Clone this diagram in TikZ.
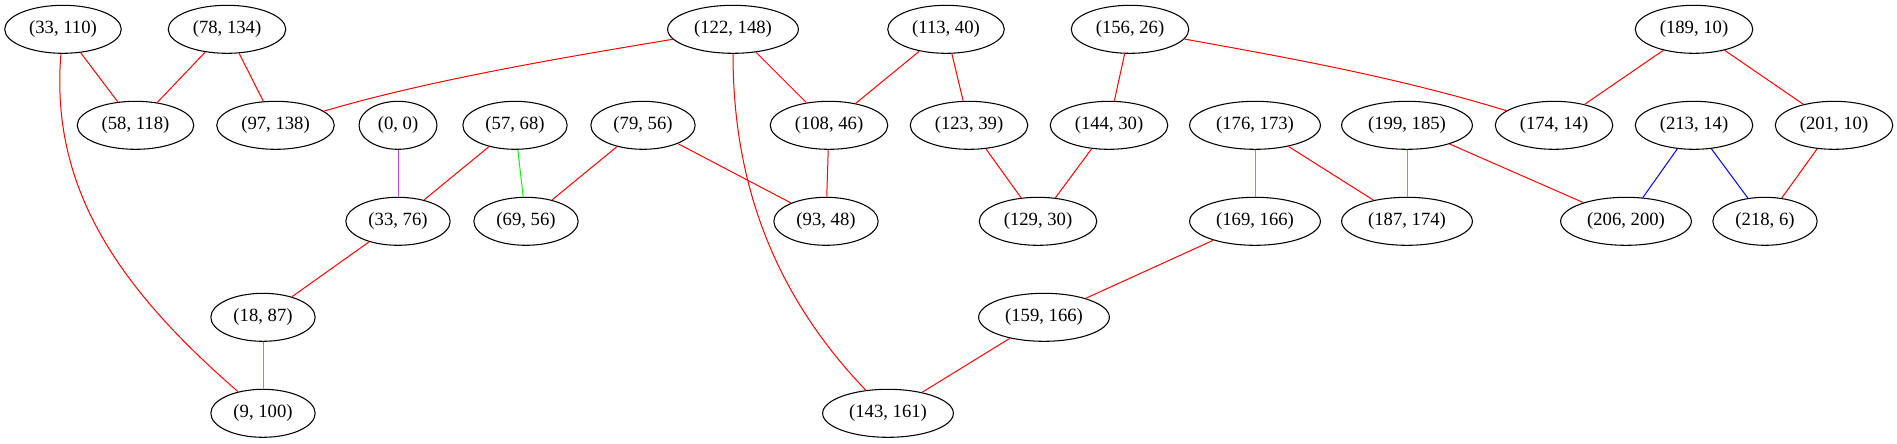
\documentclass[tikz,border=0pt]{standalone}
\usepackage{fontspec}
\setmainfont{Liberation Serif}
\usetikzlibrary{shapes.geometric}
\definecolor{gvred}{HTML}{FF0000}
\definecolor{gvgreen}{HTML}{00FF00}
\definecolor{gvblue}{HTML}{0000FF}
\definecolor{gvpurple}{HTML}{A020F0}
\tikzset{
  gvnode/.style={draw, ellipse, line width=0.8pt, minimum height=36pt, minimum width=54pt,
    inner xsep=5.5pt, inner ysep=2pt, font=\fontsize{14}{16}\selectfont},
  gvedge/.style={line width=0.75pt},
  redge/.style={gvedge, draw=gvred},
  gedge/.style={gvedge, draw=gvgreen},
  bedge/.style={gvedge, draw=gvblue},
  pedge/.style={gvedge, draw=gvpurple!80},
}
\begin{document}
\begin{tikzpicture}[x=0.75pt, y=-0.75pt]
\useasboundingbox (0,0) rectangle (1897,443);
% row 1
\node[gvnode] (a33x110) at (63,29.3) {(33, 110)};
\node[gvnode] (a78x134) at (227,29.3) {(78, 134)};
\node[gvnode] (a122x148) at (733,29.3) {(122, 148)};
\node[gvnode] (a113x40) at (946,29.3) {(113, 40)};
\node[gvnode] (a156x26) at (1130,29.3) {(156, 26)};
\node[gvnode] (a189x10) at (1694,29.3) {(189, 10)};
% row 2
\node[gvnode] (a58x118) at (135.5,125.3) {(58, 118)};
\node[gvnode] (a97x138) at (275.5,125.3) {(97, 138)};
\node[gvnode] (a0x0) at (398,125.3) {(0, 0)};
\node[gvnode] (a57x68) at (515,125.3) {(57, 68)};
\node[gvnode] (a79x56) at (643,125.3) {(79, 56)};
\node[gvnode] (a108x46) at (829,125.3) {(108, 46)};
\node[gvnode] (a123x39) at (969,125.3) {(123, 39)};
\node[gvnode] (a144x30) at (1109,125.3) {(144, 30)};
\node[gvnode] (a176x173) at (1255,125.3) {(176, 173)};
\node[gvnode] (a199x185) at (1407,125.3) {(199, 185)};
\node[gvnode] (a174x14) at (1554,125.3) {(174, 14)};
\node[gvnode] (a213x14) at (1694,125.3) {(213, 14)};
\node[gvnode] (a201x10) at (1834,125.3) {(201, 10)};
% row 3
\node[gvnode] (a33x76) at (398,221.3) {(33, 76)};
\node[gvnode] (a69x56) at (526,221.3) {(69, 56)};
\node[gvnode] (a93x48) at (826,221.3) {(93, 48)};
\node[gvnode] (a129x30) at (1038,221.3) {(129, 30)};
\node[gvnode] (a169x166) at (1255,221.3) {(169, 166)};
\node[gvnode] (a187x174) at (1407,221.3) {(187, 174)};
\node[gvnode] (a206x200) at (1626,221.3) {(206, 200)};
\node[gvnode] (a218x6) at (1765,221.3) {(218, 6)};
% row 4
\node[gvnode] (a18x87) at (263,317.3) {(18, 87)};
\node[gvnode] (a159x166) at (1044,317.3) {(159, 166)};
% row 5
\node[gvnode] (a9x100) at (263,413.3) {(9, 100)};
\node[gvnode] (a143x161) at (888,413.3) {(143, 161)};
% edges
\draw[redge] (a33x110) -- (a58x118);
\draw[redge] (a33x110) .. controls (50,185) and (115,285) .. (a9x100);
\draw[redge] (a78x134) -- (a58x118);
\draw[redge] (a78x134) -- (a97x138);
\draw[redge] (a122x148) .. controls (560,58) and (430,80) .. (a97x138);
\draw[redge] (a122x148) -- (a108x46);
\draw[redge] (a122x148) .. controls (733,160) and (760,280) .. (a143x161);
\draw[redge] (a113x40) -- (a108x46);
\draw[redge] (a113x40) -- (a123x39);
\draw[redge] (a156x26) -- (a144x30);
\draw[redge] (a156x26) .. controls (1290,58) and (1400,78) .. (a174x14);
\draw[redge] (a189x10) -- (a174x14);
\draw[redge] (a189x10) -- (a201x10);
\draw[pedge] (a0x0) -- (a33x76);
\draw[redge] (a57x68) -- (a33x76);
\draw[gedge] (a57x68) -- (a69x56);
\draw[redge] (a79x56) -- (a69x56);
\draw[redge] (a79x56) -- (a93x48);
\draw[redge] (a108x46) -- (a93x48);
\draw[redge] (a123x39) -- (a129x30);
\draw[redge] (a144x30) -- (a129x30);
\draw[gedge] (a176x173) -- (a169x166);
\draw[redge] (a176x173) -- (a187x174);
\draw[gedge] (a199x185) -- (a187x174);
\draw[redge] (a199x185) -- (a206x200);
\draw[bedge] (a213x14) -- (a206x200);
\draw[bedge] (a213x14) -- (a218x6);
\draw[redge] (a201x10) -- (a218x6);
\draw[redge] (a33x76) -- (a18x87);
\draw[gedge] (a18x87) -- (a9x100);
\draw[redge] (a169x166) -- (a159x166);
\draw[redge] (a159x166) -- (a143x161);
\end{tikzpicture}
\end{document}
